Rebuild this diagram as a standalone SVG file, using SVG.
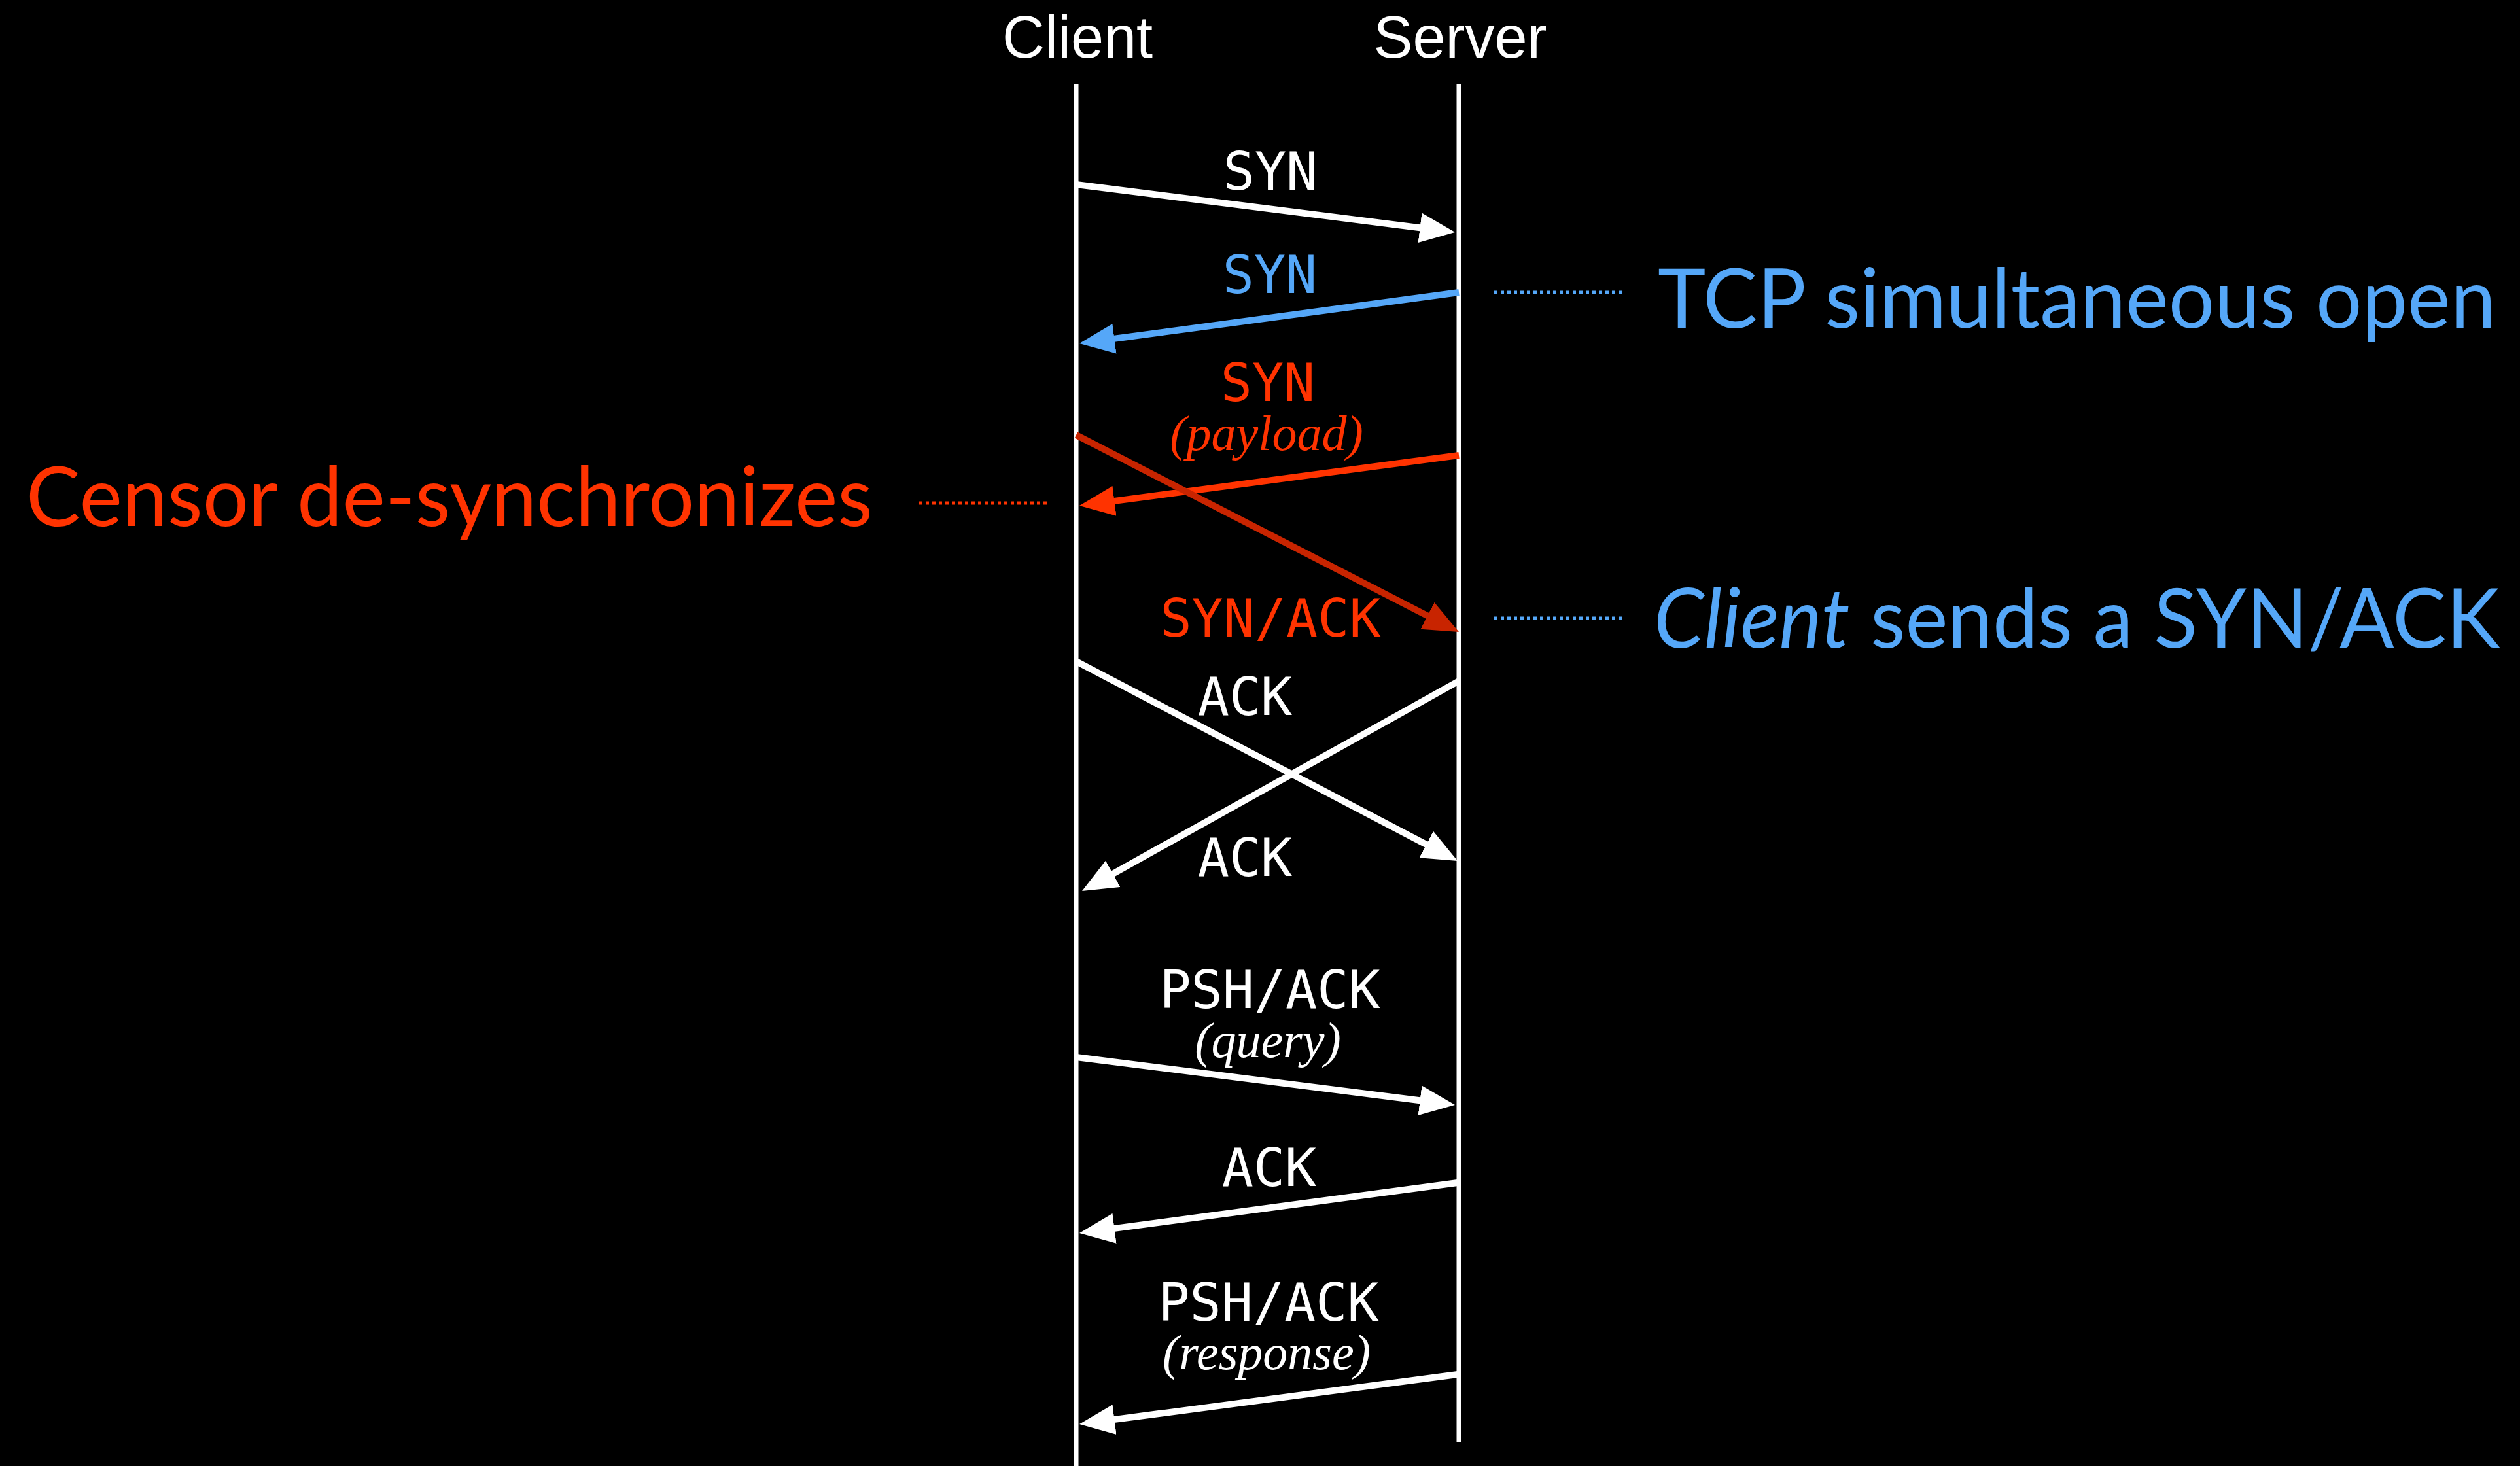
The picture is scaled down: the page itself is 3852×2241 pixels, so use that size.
<svg xmlns="http://www.w3.org/2000/svg" width="3852" height="2241" viewBox="0 0 3852 2241">
<style>
.bg{fill:#000}
.life{stroke:#fff;stroke-width:7;fill:none}
.msg{stroke-width:10;fill:none}
.w{stroke:#fff}
.b{stroke:#55A7F8}
.r{stroke:#FF3300}
.dr{stroke:#C82400}
.dot{stroke-width:5;stroke-dasharray:5 5;fill:none}
.hdr{font-family:"Liberation Sans",Arial,sans-serif;font-size:90px;fill:#fff;text-anchor:middle}
.lbl{font-family:"DejaVu Sans Mono",monospace;font-size:80px;text-anchor:middle}
.sub{font-family:"Liberation Serif","Times New Roman",serif;font-style:italic;font-size:76px;text-anchor:middle}
.note{font-family:Lato,"Open Sans",sans-serif;font-size:127px}
</style>
<defs>
<marker id="aw" markerUnits="userSpaceOnUse" markerWidth="56" markerHeight="48" refX="34" refY="23" orient="auto"><path d="M0,0 L54,23 L0,46 z" fill="#fff"/></marker>
<marker id="ab" markerUnits="userSpaceOnUse" markerWidth="56" markerHeight="48" refX="34" refY="23" orient="auto"><path d="M0,0 L54,23 L0,46 z" fill="#55A7F8"/></marker>
<marker id="ar" markerUnits="userSpaceOnUse" markerWidth="56" markerHeight="48" refX="34" refY="23" orient="auto"><path d="M0,0 L54,23 L0,46 z" fill="#FF3300"/></marker>
<marker id="adr" markerUnits="userSpaceOnUse" markerWidth="56" markerHeight="48" refX="34" refY="23" orient="auto"><path d="M0,0 L54,23 L0,46 z" fill="#C82400"/></marker>
</defs>
<rect class="bg" x="0" y="0" width="3852" height="2241"/>

<g id="client">
<text class="hdr" x="1647" y="88">Client</text>
<line class="life" x1="1645" y1="128" x2="1645" y2="2241"/>
</g>
<g id="server">
<text class="hdr" x="2232" y="88">Server</text>
<line class="life" x1="2230" y1="128" x2="2230" y2="2205"/>
</g>

<g id="connectors">
<line class="msg w" x1="1645" y1="282" x2="2204.2" y2="352.5" marker-end="url(#aw)"/>
<line class="msg b" x1="2230" y1="447" x2="1669.8" y2="522.3" marker-end="url(#ab)"/>
<line class="msg r" x1="2230" y1="696" x2="1669.8" y2="770.4" marker-end="url(#ar)"/>
<line class="msg dr" x1="1645" y1="665" x2="2212.2" y2="956.9" marker-end="url(#adr)"/>
<line class="msg w" x1="1645" y1="1011" x2="2210.3" y2="1306.7" marker-end="url(#aw)"/>
<line class="msg w" x1="2230" y1="1041" x2="1671.5" y2="1352.3" marker-end="url(#aw)"/>
<line class="msg w" x1="1645" y1="1616" x2="2204.2" y2="1686.5" marker-end="url(#aw)"/>
<line class="msg w" x1="2228" y1="1808" x2="1669.8" y2="1882.4" marker-end="url(#aw)"/>
<line class="msg w" x1="2228" y1="2101" x2="1669.8" y2="2174.4" marker-end="url(#aw)"/>
<line class="dot b" x1="2284" y1="447" x2="2480" y2="447"/>
<line class="dot b" x1="2284" y1="945" x2="2480" y2="945"/>
<line class="dot r" x1="1405" y1="769" x2="1602" y2="769"/>
</g>

<g id="labels">
<text class="lbl" x="1942" y="290" fill="#fff">SYN</text>
<text class="lbl" x="1941" y="448" fill="#55A7F8">SYN</text>
<text class="lbl" x="1938" y="613" fill="#FF3300">SYN</text>
<text class="sub" x="1936" y="688" fill="#FF3300">(payload)</text>
<text class="lbl" x="1942" y="973" fill="#FF3300">SYN/ACK</text>
<text class="lbl" x="1903" y="1093" fill="#fff">ACK</text>
<text class="lbl" x="1903" y="1339" fill="#fff">ACK</text>
<text class="lbl" x="1941" y="1541" fill="#fff">PSH/ACK</text>
<text class="sub" x="1938" y="1616" fill="#fff">(query)</text>
<text class="lbl" x="1940" y="1813" fill="#fff">ACK</text>
<text class="lbl" x="1939" y="2019" fill="#fff">PSH/ACK</text>
<text class="sub" x="1936" y="2093" fill="#fff">(response)</text>
</g>

<g id="notes">
<text class="note" x="2534" y="501" fill="#55A7F8" textLength="1281" lengthAdjust="spacingAndGlyphs">TCP simultaneous open</text>
<text class="note" x="2528" y="990" fill="#55A7F8" textLength="1293" lengthAdjust="spacingAndGlyphs"><tspan font-style="italic">Client</tspan> sends a SYN/ACK</text>
<text class="note" x="40" y="804" fill="#FF3300" textLength="1294" lengthAdjust="spacingAndGlyphs">Censor de-synchronizes</text>
</g>
</svg>
